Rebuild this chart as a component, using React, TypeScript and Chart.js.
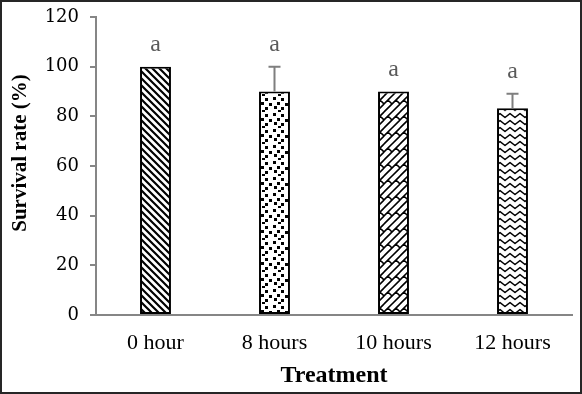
import React, { useEffect, useRef } from "react";
import { Chart, registerables } from "chart.js";

Chart.register(...registerables);

const categories = ["0 hour", "8 hours", "10 hours", "12 hours"];
const survival = [100, 90, 90, 83.3];
const errorUp = [0, 10, 0, 5.8];
const letters = ["a", "a", "a", "a"];
const yTicks = [0, 20, 40, 60, 80, 100, 120];
const yTitle = "Survival rate (%)";
const xTitle = "Treatment";

function tile(w: number, h: number, draw: (ctx: CanvasRenderingContext2D) => void) {
  const c = document.createElement("canvas");
  c.width = w;
  c.height = h;
  const ctx = c.getContext("2d") as CanvasRenderingContext2D;
  ctx.fillStyle = "#ffffff";
  ctx.fillRect(0, 0, w, h);
  ctx.strokeStyle = "#000000";
  ctx.fillStyle = "#000000";
  draw(ctx);
  const main = document.createElement("canvas").getContext("2d") as CanvasRenderingContext2D;
  return main.createPattern(c, "repeat") as CanvasPattern;
}

function makePatterns(): CanvasPattern[] {
  const diag = tile(7, 7, (ctx) => {
    ctx.lineWidth = 2.2;
    ctx.beginPath();
    for (const k of [-7, 0, 7]) {
      ctx.moveTo(k - 1, -1);
      ctx.lineTo(k + 8, 8);
    }
    ctx.stroke();
  });
  const squares = tile(16, 16, (ctx) => {
    const pts = [
      [1, 1], [9, 2], [5, 6], [13, 7], [2, 10], [9, 11], [6, 14],
    ];
    for (const [x, y] of pts) ctx.fillRect(x, y, 3, 3);
  });
  const S = 16;
  const brick = tile(S, S, (ctx) => {
    ctx.lineWidth = 1.6;
    ctx.beginPath();
    for (const dx of [-S, 0, S]) {
      for (const dy of [-S, 0, S]) {
        ctx.moveTo(dx + 0, dy + S / 2);
        ctx.lineTo(dx + S / 2, dy + 0);
        ctx.moveTo(dx + 0, dy + S);
        ctx.lineTo(dx + S, dy + 0);
        ctx.moveTo(dx + S / 2, dy + S);
        ctx.lineTo(dx + S, dy + S / 2);
        ctx.moveTo(dx + S / 4, dy + S / 4);
        ctx.lineTo(dx + S / 2, dy + S / 2);
        ctx.moveTo(dx + (3 * S) / 4, dy + S / 4);
        ctx.lineTo(dx + S, dy + S / 2);
      }
    }
    ctx.stroke();
  });
  const wave = tile(10, 7, (ctx) => {
    ctx.lineWidth = 1.5;
    ctx.lineJoin = "round";
    ctx.beginPath();
    for (const dy of [-7, 0, 7]) {
      ctx.moveTo(-5, dy + 5.5);
      ctx.lineTo(0, dy + 1.5);
      ctx.lineTo(5, dy + 5.5);
      ctx.lineTo(10, dy + 1.5);
      ctx.lineTo(15, dy + 5.5);
    }
    ctx.stroke();
  });
  return [diag, squares, brick, wave];
}

const overlayPlugin = {
  id: "overlay",
  afterDatasetsDraw(chart: any) {
    const ctx = chart.ctx as CanvasRenderingContext2D;
    const meta = chart.getDatasetMeta(0);
    const yScale = chart.scales.y;
    ctx.save();
    meta.data.forEach((bar: any, i: number) => {
      const x = bar.x;
      const top = yScale.getPixelForValue(survival[i] + errorUp[i]);
      if (errorUp[i] > 0) {
        ctx.strokeStyle = "#7f7f7f";
        ctx.lineWidth = 2;
        ctx.beginPath();
        ctx.moveTo(x, bar.y);
        ctx.lineTo(x, top);
        ctx.moveTo(x - 6, top);
        ctx.lineTo(x + 6, top);
        ctx.stroke();
      }
      ctx.fillStyle = "#595959";
      ctx.font = '24px "Liberation Serif"';
      ctx.textAlign = "center";
      ctx.textBaseline = "alphabetic";
      ctx.fillText(letters[i], x, top - 16);
    });
    const area = chart.chartArea;
    ctx.fillStyle = "#000000";
    ctx.font = 'bold 21px "Liberation Serif"';
    ctx.textAlign = "center";
    ctx.textBaseline = "middle";
    ctx.save();
    ctx.translate(21, 153);
    ctx.rotate(-Math.PI / 2);
    ctx.fillText(yTitle, 0, 0);
    ctx.restore();
    ctx.font = 'bold 24px "Liberation Serif"';
    ctx.fillText(xTitle, (area.left + area.right) / 2, 376);
    ctx.restore();
  },
};

export default function App() {
  const ref = useRef<HTMLCanvasElement | null>(null);
  useEffect(() => {
    document.body.style.margin = "0";
    const canvas = ref.current;
    if (!canvas) return;
    const patterns = makePatterns();
    const chart = new Chart(canvas, {
      type: "bar",
      data: {
        labels: categories,
        datasets: [
          {
            data: survival,
            backgroundColor: patterns,
            borderColor: "#000000",
            borderWidth: 2,
            borderSkipped: false,
            barPercentage: 0.26,
            categoryPercentage: 1,
          },
        ],
      },
      options: {
        responsive: false,
        animation: false,
        layout: { padding: { top: 17, right: 10, left: 0, bottom: 0 } },
        plugins: { legend: { display: false }, tooltip: { enabled: false } },
        scales: {
          x: {
            grid: { display: false, drawTicks: false },
            border: { display: true, color: "#868686", width: 2 },
            ticks: {
              font: { family: "Liberation Serif", size: 22 },
              color: "#000000",
              padding: 15,
            },
            afterFit: (s: any) => {
              s.height = 79;
              s.paddingLeft = 0;
              s.paddingRight = 0;
            },
          },
          y: {
            min: 0,
            max: 120,
            afterBuildTicks: (s: any) => {
              s.ticks = yTicks.map((v) => ({ value: v }));
            },
            ticks: {
              font: { family: "DejaVu Serif", size: 18 },
              color: "#000000",
              padding: 11,
            },
            grid: {
              drawOnChartArea: false,
              drawTicks: true,
              tickLength: 6,
              color: "#868686",
              lineWidth: 2,
            },
            border: { display: true, color: "#868686", width: 2 },
            afterFit: (s: any) => {
              s.width = 96;
              s.paddingTop = 0;
              s.paddingBottom = 0;
            },
          },
        },
      },
      plugins: [overlayPlugin],
    });
    return () => chart.destroy();
  }, []);
  return (
    <div style={{ position: "relative", width: 582, height: 394 }}>
      <canvas ref={ref} width={582} height={394} style={{ display: "block" }} />
      <div
        style={{
          position: "absolute",
          inset: 0,
          border: "2px solid #262626",
          boxSizing: "border-box",
          pointerEvents: "none",
        }}
      />
    </div>
  );
}
